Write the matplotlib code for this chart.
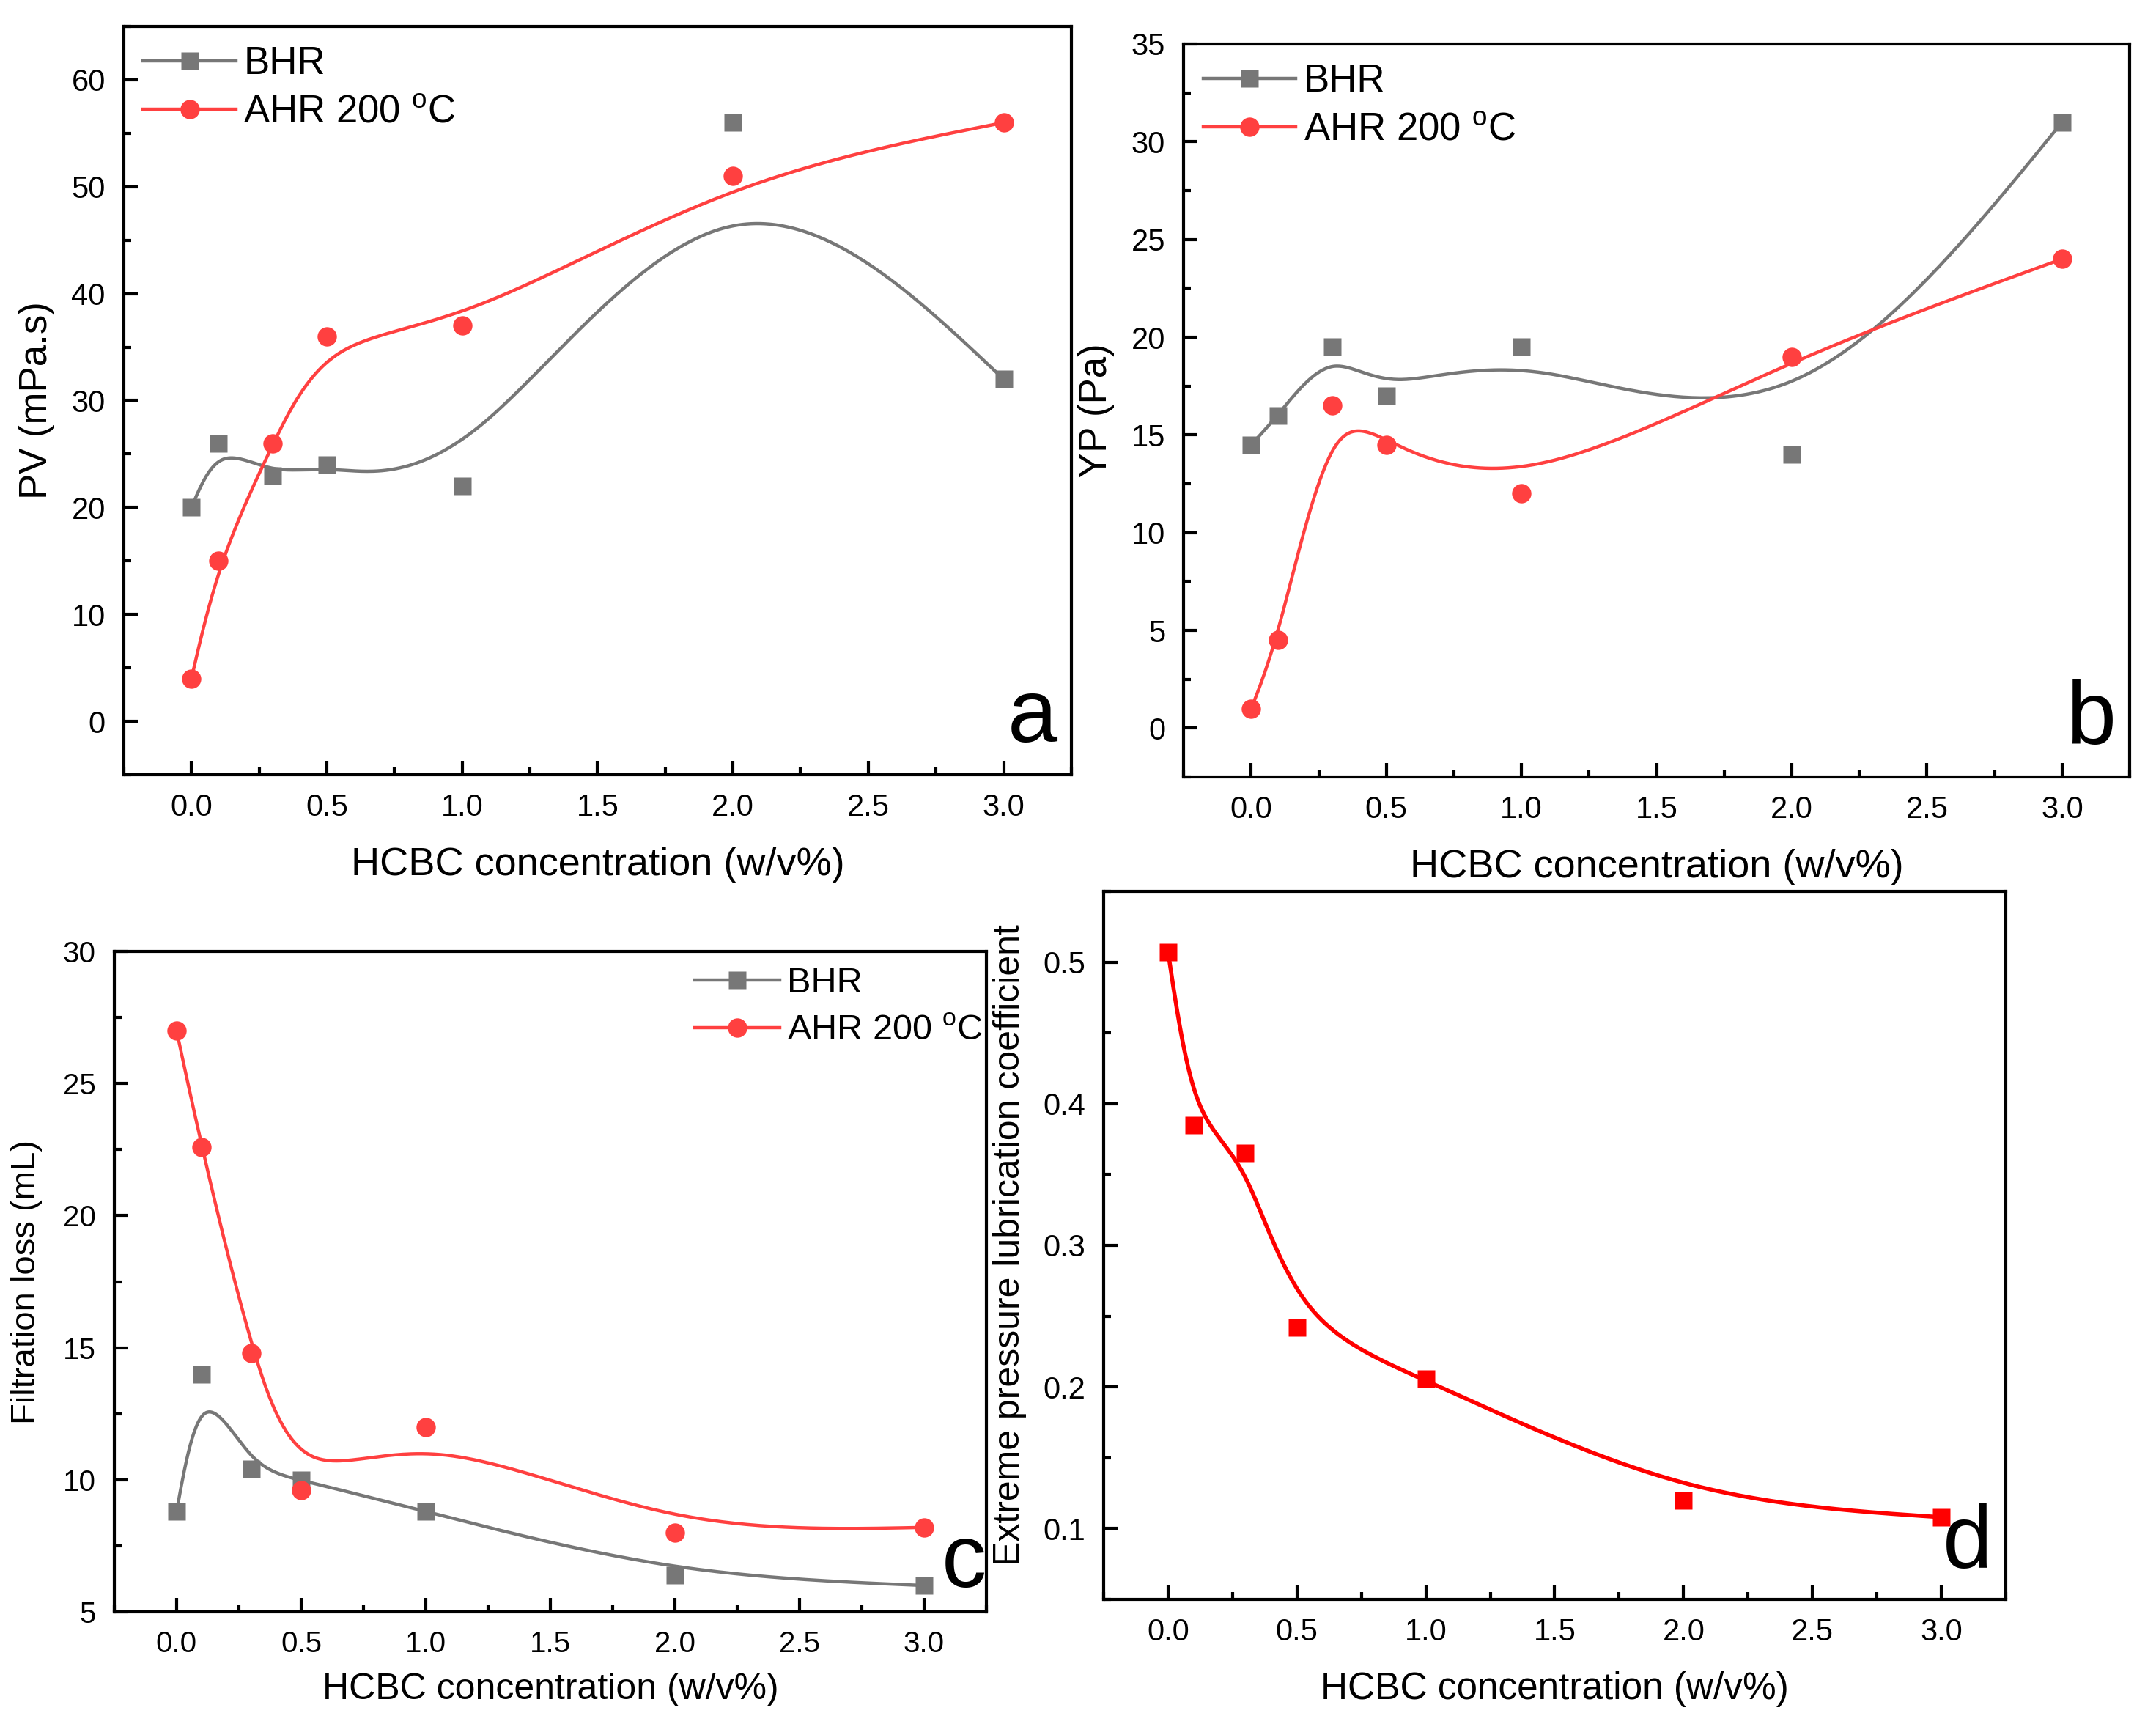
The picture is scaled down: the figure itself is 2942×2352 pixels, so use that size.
import numpy as np
import matplotlib
matplotlib.use('Agg')
import matplotlib.pyplot as plt
from matplotlib.ticker import MultipleLocator

plt.rcParams['font.family'] = ['Liberation Sans', 'DejaVu Sans']
plt.rcParams['mathtext.fontset'] = 'custom'
plt.rcParams['mathtext.rm'] = 'Liberation Sans'

conc = [0, 0.1, 0.3, 0.5, 1.0, 2.0, 3.0]

pv_bhr = [20, 26, 23, 24, 22, 56, 32]
pv_ahr = [4, 15, 26, 36, 37, 51, 56]

yp_bhr = [14.5, 16, 19.5, 17, 19.5, 14, 31]
yp_ahr = [1, 4.5, 16.5, 14.5, 12, 19, 24]

fl_bhr = [8.8, 14, 10.4, 10, 8.8, 6.4, 6]
fl_ahr = [27, 22.6, 14.8, 9.6, 12, 8, 8.2]

ep_coef = [0.507, 0.385, 0.365, 0.242, 0.206, 0.120, 0.108]

xticks = [0.0, 0.5, 1.0, 1.5, 2.0, 2.5, 3.0]
xlabel = 'HCBC concentration (w/v%)'
leg_bhr = 'BHR'
leg_ahr = 'AHR 200 $^\\mathregular{o}$C'

GRAY = '#777777'
RED = '#ff4040'


def bspline(px, py, n=60):
    # uniform cubic B-spline through the end points (phantom end points by reflection)
    P = np.column_stack([px, py]).astype(float)
    Q = np.vstack([2 * P[0] - P[1], P, 2 * P[-1] - P[-2]])
    u = np.linspace(0, 1, n)
    b0 = (1 - u) ** 3 / 6
    b1 = (3 * u ** 3 - 6 * u ** 2 + 4) / 6
    b2 = (-3 * u ** 3 + 3 * u ** 2 + 3 * u + 1) / 6
    b3 = u ** 3 / 6
    segs = []
    for j in range(len(Q) - 3):
        seg = (np.outer(b0, Q[j]) + np.outer(b1, Q[j + 1]) +
               np.outer(b2, Q[j + 2]) + np.outer(b3, Q[j + 3]))
        segs.append(seg if j == 0 else seg[1:])
    C = np.vstack(segs)
    return C[:, 0], C[:, 1]


def style(ax, ylab, ymaj, ymin, xlab_size=19.5, ylab_size=19, tick_size=15, ylabpad=8, xlabpad=12):
    for s in ax.spines.values():
        s.set_linewidth(1.5)
    ax.set_xlim(-0.25, 3.25)
    ax.set_xticks(xticks)
    ax.xaxis.set_minor_locator(MultipleLocator(0.25))
    ax.yaxis.set_major_locator(MultipleLocator(ymaj))
    ax.yaxis.set_minor_locator(MultipleLocator(ymin))
    ax.tick_params(which='major', direction='in', length=7, width=1.5, labelsize=tick_size, pad=9)
    ax.tick_params(which='minor', direction='in', length=3.6, width=1.5)
    ax.set_xlabel(xlabel, fontsize=xlab_size, labelpad=xlabpad)
    ax.set_ylabel(ylab, fontsize=ylab_size, labelpad=ylabpad)


def two_series(ax, yb, ya):
    xs, ys = bspline(conc, yb)
    ax.plot(xs, ys, color=GRAY, lw=1.6)
    xs, ys = bspline(conc, ya)
    ax.plot(xs, ys, color=RED, lw=1.6)
    ax.plot(conc, yb, 's', color=GRAY, ms=8.5, mec='none')
    ax.plot(conc, ya, 'o', color=RED, ms=9.5, mec='none')
    hb, = ax.plot([], [], '-s', color=GRAY, lw=1.6, ms=8.5, mec='none')
    ha, = ax.plot([], [], '-o', color=RED, lw=1.6, ms=9.5, mec='none')
    return hb, ha


legkw = dict(frameon=False, handlelength=2.4, handletextpad=0.2)

fig = plt.figure(figsize=(14.71, 11.76), dpi=200)

ax_a = fig.add_axes([0.0574, 0.5506, 0.4395, 0.4341])
hb, ha = two_series(ax_a, pv_bhr, pv_ahr)
ax_a.set_ylim(-5, 65)
style(ax_a, 'PV (mPa.s)', 10, 5)
ax_a.legend([hb, ha], [leg_bhr, leg_ahr], loc='upper left', borderaxespad=0.1, fontsize=19,
            labelspacing=0.3, **legkw)
ax_a.text(0.985, 0.02, 'a', transform=ax_a.transAxes, ha='right', va='bottom', fontsize=44)

ax_b = fig.add_axes([0.549, 0.5493, 0.4388, 0.4252])
hb, ha = two_series(ax_b, yp_bhr, yp_ahr)
ax_b.set_ylim(-2.5, 35)
style(ax_b, 'YP (Pa)', 5, 2.5)
ax_b.legend([hb, ha], [leg_bhr, leg_ahr], loc='upper left', borderaxespad=0.1, fontsize=19,
            labelspacing=0.3, **legkw)
ax_b.text(0.985, 0.02, 'b', transform=ax_b.transAxes, ha='right', va='bottom', fontsize=44)

ax_c = fig.add_axes([0.0530, 0.0650, 0.4045, 0.3831])
hb, ha = two_series(ax_c, fl_bhr, fl_ahr)
ax_c.set_ylim(5, 30)
style(ax_c, 'Filtration loss (mL)', 5, 2.5, xlab_size=18, ylab_size=17, tick_size=14.5,
      ylabpad=10, xlabpad=7)
ax_c.legend([hb, ha], [leg_bhr, leg_ahr], loc='upper right', borderaxespad=0.0,
            bbox_to_anchor=(1.012, 0.998), fontsize=17.5, labelspacing=0.4, **legkw)
ax_c.text(1.0, 0.01, 'c', transform=ax_c.transAxes, ha='right', va='bottom', fontsize=44)

ax_d = fig.add_axes([0.5119, 0.0723, 0.4184, 0.4107])
xs, ys = bspline(conc, ep_coef)
ax_d.plot(xs, ys, color='#ff0000', lw=2.0)
ax_d.plot(conc, ep_coef, 's', color='#ff0000', ms=8.5, mec='none')
ax_d.set_ylim(0.05, 0.55)
style(ax_d, 'Extreme pressure lubrication coefficient', 0.1, 0.05, xlab_size=18.5, ylab_size=18)
ax_d.text(0.985, 0.02, 'd', transform=ax_d.transAxes, ha='right', va='bottom', fontsize=44)

fig.savefig('out.png', dpi=200)
